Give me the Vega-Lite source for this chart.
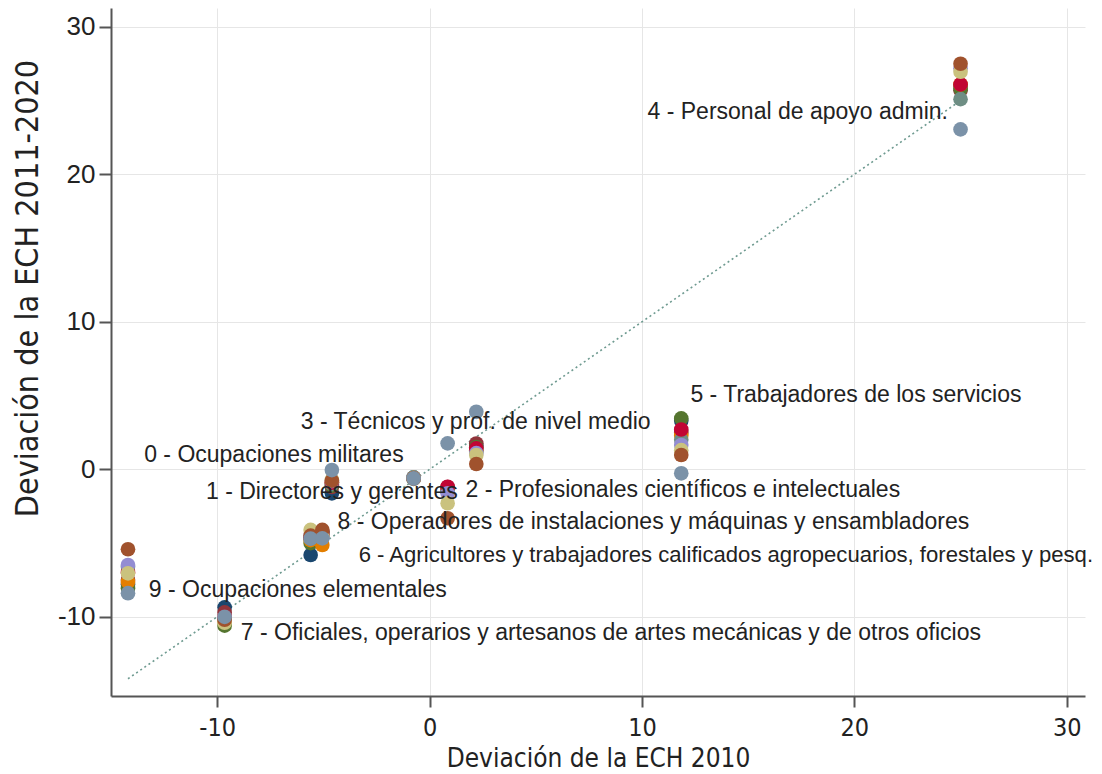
{
  "$schema": "https://vega.github.io/schema/vega-lite/v6.json",
  "width": 974,
  "height": 688,
  "autosize": {"type": "none"},
  "padding": {"left": 111, "top": 8, "right": 17, "bottom": 78},
  "background": "white",
  "config": {"view": {"stroke": null}},
  "datasets": {
    "pts": [
      {"g":0,"yr":2011,"x":-0.75,"y":-0.55},{"g":1,"yr":2011,"x":-4.6,"y":-1.63},{"g":2,"yr":2011,"x":0.85,"y":-1.3},{"g":3,"yr":2011,"x":2.2,"y":1.6},{"g":4,"yr":2011,"x":25.0,"y":26.0},{"g":5,"yr":2011,"x":11.85,"y":3.3},{"g":6,"yr":2011,"x":-5.6,"y":-5.81},{"g":7,"yr":2011,"x":-9.65,"y":-9.36},{"g":8,"yr":2011,"x":-5.05,"y":-4.3},{"g":9,"yr":2011,"x":-14.2,"y":-7.8},
      {"g":0,"yr":2012,"x":-0.75,"y":-0.6},{"g":1,"yr":2012,"x":-4.6,"y":-1.2},{"g":2,"yr":2012,"x":0.85,"y":-1.2},{"g":3,"yr":2012,"x":2.2,"y":1.75},{"g":4,"yr":2012,"x":25.0,"y":25.7},{"g":5,"yr":2012,"x":11.85,"y":2.5},{"g":6,"yr":2012,"x":-5.6,"y":-4.6},{"g":7,"yr":2012,"x":-9.65,"y":-9.7},{"g":8,"yr":2012,"x":-5.05,"y":-4.2},{"g":9,"yr":2012,"x":-14.2,"y":-7.5},
      {"g":0,"yr":2013,"x":-0.75,"y":-0.65},{"g":1,"yr":2013,"x":-4.6,"y":-1.1},{"g":2,"yr":2013,"x":0.85,"y":-1.4},{"g":3,"yr":2013,"x":2.2,"y":1.5},{"g":4,"yr":2013,"x":25.0,"y":25.8},{"g":5,"yr":2013,"x":11.85,"y":3.45},{"g":6,"yr":2013,"x":-5.6,"y":-5.0},{"g":7,"yr":2013,"x":-9.65,"y":-10.6},{"g":8,"yr":2013,"x":-5.05,"y":-4.5},{"g":9,"yr":2013,"x":-14.2,"y":-8.07},
      {"g":0,"yr":2014,"x":-0.75,"y":-0.6},{"g":1,"yr":2014,"x":-4.6,"y":-0.9},{"g":2,"yr":2014,"x":0.85,"y":-1.3},{"g":3,"yr":2014,"x":2.2,"y":1.3},{"g":4,"yr":2014,"x":25.0,"y":26.1},{"g":5,"yr":2014,"x":11.85,"y":2.3},{"g":6,"yr":2014,"x":-5.6,"y":-4.8},{"g":7,"yr":2014,"x":-9.65,"y":-10.3},{"g":8,"yr":2014,"x":-5.05,"y":-5.13},{"g":9,"yr":2014,"x":-14.2,"y":-7.62},
      {"g":0,"yr":2015,"x":-0.75,"y":-0.55},{"g":1,"yr":2015,"x":-4.6,"y":-1.0},{"g":2,"yr":2015,"x":0.85,"y":-1.5},{"g":3,"yr":2015,"x":2.2,"y":1.2},{"g":4,"yr":2015,"x":25.0,"y":25.1},{"g":5,"yr":2015,"x":11.85,"y":2.0},{"g":6,"yr":2015,"x":-5.6,"y":-4.7},{"g":7,"yr":2015,"x":-9.65,"y":-10.2},{"g":8,"yr":2015,"x":-5.05,"y":-4.5},{"g":9,"yr":2015,"x":-14.2,"y":-6.6},
      {"g":0,"yr":2016,"x":-0.75,"y":-0.6},{"g":1,"yr":2016,"x":-4.6,"y":-0.9},{"g":2,"yr":2016,"x":0.85,"y":-1.18},{"g":3,"yr":2016,"x":2.2,"y":1.42},{"g":4,"yr":2016,"x":25.0,"y":26.1},{"g":5,"yr":2016,"x":11.85,"y":2.7},{"g":6,"yr":2016,"x":-5.6,"y":-4.6},{"g":7,"yr":2016,"x":-9.65,"y":-10.0},{"g":8,"yr":2016,"x":-5.05,"y":-4.4},{"g":9,"yr":2016,"x":-14.2,"y":-7.0},
      {"g":0,"yr":2017,"x":-0.75,"y":-0.62},{"g":1,"yr":2017,"x":-4.6,"y":-0.8},{"g":2,"yr":2017,"x":0.85,"y":-1.63},{"g":3,"yr":2017,"x":2.2,"y":1.1},{"g":4,"yr":2017,"x":25.0,"y":27.2},{"g":5,"yr":2017,"x":11.85,"y":1.65},{"g":6,"yr":2017,"x":-5.6,"y":-4.5},{"g":7,"yr":2017,"x":-9.65,"y":-10.1},{"g":8,"yr":2017,"x":-5.05,"y":-4.6},{"g":9,"yr":2017,"x":-14.2,"y":-6.49},
      {"g":0,"yr":2018,"x":-0.75,"y":-0.58},{"g":1,"yr":2018,"x":-4.6,"y":-0.7},{"g":2,"yr":2018,"x":0.85,"y":-2.3},{"g":3,"yr":2018,"x":2.2,"y":0.97},{"g":4,"yr":2018,"x":25.0,"y":26.96},{"g":5,"yr":2018,"x":11.85,"y":1.3},{"g":6,"yr":2018,"x":-5.6,"y":-4.11},{"g":7,"yr":2018,"x":-9.65,"y":-10.4},{"g":8,"yr":2018,"x":-5.05,"y":-4.5},{"g":9,"yr":2018,"x":-14.2,"y":-7.05},
      {"g":0,"yr":2019,"x":-0.75,"y":-0.6},{"g":1,"yr":2019,"x":-4.6,"y":-0.77},{"g":2,"yr":2019,"x":0.85,"y":-3.32},{"g":3,"yr":2019,"x":2.2,"y":0.36},{"g":4,"yr":2019,"x":25.0,"y":27.5},{"g":5,"yr":2019,"x":11.85,"y":0.97},{"g":6,"yr":2019,"x":-5.6,"y":-4.5},{"g":7,"yr":2019,"x":-9.65,"y":-10.2},{"g":8,"yr":2019,"x":-5.05,"y":-4.11},{"g":9,"yr":2019,"x":-14.2,"y":-5.42},
      {"g":0,"yr":2020,"x":-0.75,"y":-0.61},{"g":1,"yr":2020,"x":-4.6,"y":-0.05},{"g":2,"yr":2020,"x":0.85,"y":1.76},{"g":3,"yr":2020,"x":2.2,"y":3.9},{"g":4,"yr":2020,"x":25.0,"y":23.05},{"g":5,"yr":2020,"x":11.85,"y":-0.27},{"g":6,"yr":2020,"x":-5.6,"y":-4.7},{"g":7,"yr":2020,"x":-9.65,"y":-10.0},{"g":8,"yr":2020,"x":-5.05,"y":-4.68},{"g":9,"yr":2020,"x":-14.2,"y":-8.4}
    ],
    "diag": [{"x": -14.2, "y": -14.2}, {"x": 25.0, "y": 25.0}],
    "labLeft": [
      {"t": "2 - Profesionales científicos e intelectuales", "x": 1.69, "y": -1.4},
      {"t": "5 - Trabajadores de los servicios", "x": 12.28, "y": 5.04},
      {"t": "7 - Oficiales, operarios y artesanos de artes mecánicas y de otros oficios", "x": -8.89, "y": -11.09},
      {"t": "8 - Operadores de instalaciones y máquinas y ensambladores", "x": -4.33, "y": -3.57},
      {"t": "9 - Ocupaciones elementales", "x": -13.22, "y": -8.18}
    ],
    "labLong": [
      {"t": "6 - Agricultores y trabajadores calificados agropecuarios, forestales y pesq.", "x": -3.34, "y": -5.81}
    ],
    "labRight": [
      {"t": "0 - Ocupaciones militares", "x": -1.22, "y": 0.97},
      {"t": "4 - Personal de apoyo admin.", "x": 24.41, "y": 24.22}
    ],
    "labCenter": [
      {"t": "1 - Directores y gerentes", "x": -4.6, "y": -1.54},
      {"t": "3 - Técnicos y prof. de nivel medio", "x": 2.17, "y": 3.2}
    ]
  },
  "encoding": {
    "x": {"field": "x", "type": "quantitative", "scale": {"domain": [-15, 30.86], "nice": false, "zero": false},
      "axis": {"values": [-10, 0, 10, 20, 30], "labelExpr": "'' + datum.value", "title": "Deviación de la ECH 2010", "grid": true, "gridColor": "#e6e6e6", "gridWidth": 1,
        "domainColor": "#555555", "domainWidth": 2, "tickColor": "#555555", "tickWidth": 2, "tickSize": 11,
        "labelFont": "DejaVu Sans Condensed, Liberation Sans", "labelFontSize": 25, "labelColor": "#222222", "labelPadding": 8,
        "titleFont": "DejaVu Sans Condensed, Liberation Sans", "titleFontSize": 26, "titleFontWeight": "normal", "titleColor": "#222222", "titlePadding": 5}},
    "y": {"field": "y", "type": "quantitative", "scale": {"domain": [-15.37, 31.28], "nice": false, "zero": false},
      "axis": {"values": [-10, 0, 10, 20, 30], "labelExpr": "'' + datum.value", "title": "Deviación de la ECH 2011-2020", "grid": true, "gridColor": "#e6e6e6", "gridWidth": 1,
        "domainColor": "#555555", "domainWidth": 2, "tickColor": "#555555", "tickWidth": 2, "tickSize": 12,
        "labelFont": "Liberation Sans", "labelFontSize": 26, "labelColor": "#222222", "labelPadding": 4,
        "titleFont": "DejaVu Sans Condensed, Liberation Sans", "titleFontSize": 32, "titleFontWeight": "normal", "titleColor": "#222222", "titlePadding": 13, "titleY": 280}}
  },
  "layer": [
    {
      "data": {"name": "diag"},
      "mark": {"type": "line", "color": "#6e9a90", "strokeWidth": 1.6, "strokeDash": [2, 3]},
      "encoding": {}
    },
    {
      "data": {"name": "pts"},
      "mark": {"type": "circle", "size": 215, "opacity": 1},
      "encoding": {
        "color": {"field": "yr", "type": "ordinal", "legend": null,
          "scale": {"domain": [2011,2012,2013,2014,2015,2016,2017,2018,2019,2020],
            "range": ["#1a476f","#90353b","#55752f","#e37e00","#6e8e84","#c10534","#938dd2","#cac27e","#a0522d","#7b92a8"]}}
      }
    },
    {
      "data": {"name": "labLeft"},
      "mark": {"type": "text", "align": "left", "baseline": "middle", "font": "Liberation Sans", "fontSize": 23, "color": "#222222"},
      "encoding": {"text": {"field": "t"}}
    },
    {
      "data": {"name": "labLong"},
      "mark": {"type": "text", "align": "left", "baseline": "middle", "font": "Liberation Sans", "fontSize": 22.1, "color": "#222222"},
      "encoding": {"text": {"field": "t"}}
    },
    {
      "data": {"name": "labRight"},
      "mark": {"type": "text", "align": "right", "baseline": "middle", "font": "Liberation Sans", "fontSize": 23, "color": "#222222"},
      "encoding": {"text": {"field": "t"}}
    },
    {
      "data": {"name": "labCenter"},
      "mark": {"type": "text", "align": "center", "baseline": "middle", "font": "Liberation Sans", "fontSize": 23, "color": "#222222"},
      "encoding": {"text": {"field": "t"}}
    }
  ]
}
